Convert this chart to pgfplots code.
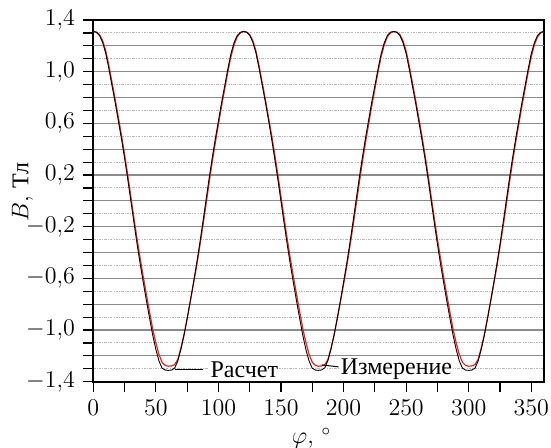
\documentclass[12pt,border=0pt]{standalone}
\usepackage{fontspec}
\usepackage{pgfplots}
\pgfplotsset{compat=1.18}
\newfontfamily\cyr{Liberation Serif}
\definecolor{calcred}{HTML}{F0201A}
\begin{document}
\begin{tikzpicture}
\useasboundingbox (-46.65pt,-32.65pt) rectangle (228.85pt,190.85pt);
\begin{axis}[
  at={(0,0)}, anchor=south west,
  scale only axis, width=225.25pt, height=180.85pt,
  xmin=0, xmax=360, ymin=-1.4, ymax=1.4,
  axis line style={line width=0.8pt},
  tick align=outside, tick pos=left,
  major tick length=5pt, minor tick length=5pt,
  every tick/.style={black, line width=0.6pt},
  xtick={0,50,...,350},
  minor xtick={25,75,...,350},
  ytick={-1.4,-1.2,-1.0,-0.8,-0.6,-0.4,-0.2,0,0.2,0.4,0.6,0.8,1.0,1.4},
  yticklabels={$-1{,}4$,,$-1{,}0$,,$-0{,}6$,,$-0{,}2$,,$0{,}2$,,$0{,}6$,,$1{,}0$,$1{,}4$},
  extra y ticks={1.2},
  extra y tick labels={},
  extra y tick style={grid style={black!22, line width=0.6pt}},
  minor ytick={-1.3,-1.1,-0.9,-0.7,-0.5,-0.3,-0.1,0.1,0.3,0.5,0.7,0.9,1.1,1.3},
  ymajorgrids, yminorgrids,
  major grid style={black!45, line width=0.6pt},
  minor grid style={black!28, line width=0.5pt, dash pattern=on 1.2pt off 0.6pt on 0.4pt off 0.6pt},
  xlabel={$\varphi$, $^\circ$},
  ylabel={$B$, {\cyr Тл}},
  xlabel style={xshift=-3.5pt, yshift=2pt},
  every axis y label/.style={at={(axis description cs:-0.157,0.524)}, anchor=center, rotate=90},
  clip=true,
]
\addplot[calcred, line width=0.6pt] coordinates {
(0,1.310)(2.5,1.307)(5,1.287)(7.5,1.240)(10,1.160)(12.5,1.045)(15,0.915)(17.5,0.786)(20,0.648)(22.5,0.508)(25,0.360)(27.5,0.202)(30,0.033)(32.5,-0.134)(35,-0.297)(37.5,-0.448)(40,-0.592)(42.5,-0.728)(45,-0.862)(47.5,-0.993)(50,-1.100)(52.5,-1.190)(55,-1.250)(57.5,-1.274)(60,-1.280)(62.5,-1.278)(65,-1.268)(67.5,-1.228)(70,-1.139)(72.5,-1.035)(75,-0.913)(77.5,-0.782)(80,-0.646)(82.5,-0.508)(85,-0.357)(87.5,-0.198)(90,-0.033)(92.5,0.136)(95,0.298)(97.5,0.450)(100,0.592)(102.5,0.732)(105,0.864)(107.5,0.996)(110,1.116)(112.5,1.208)(115,1.270)(117.5,1.300)
(120,1.310)(122.5,1.307)(125,1.287)(127.5,1.240)(130,1.160)(132.5,1.045)(135,0.915)(137.5,0.786)(140,0.648)(142.5,0.508)(145,0.360)(147.5,0.202)(150,0.033)(152.5,-0.134)(155,-0.297)(157.5,-0.448)(160,-0.592)(162.5,-0.728)(165,-0.862)(167.5,-0.993)(170,-1.100)(172.5,-1.190)(175,-1.250)(177.5,-1.274)(180,-1.280)(182.5,-1.278)(185,-1.268)(187.5,-1.228)(190,-1.139)(192.5,-1.035)(195,-0.913)(197.5,-0.782)(200,-0.646)(202.5,-0.508)(205,-0.357)(207.5,-0.198)(210,-0.033)(212.5,0.136)(215,0.298)(217.5,0.450)(220,0.592)(222.5,0.732)(225,0.864)(227.5,0.996)(230,1.116)(232.5,1.208)(235,1.270)(237.5,1.300)
(240,1.310)(242.5,1.307)(245,1.287)(247.5,1.240)(250,1.160)(252.5,1.045)(255,0.915)(257.5,0.786)(260,0.648)(262.5,0.508)(265,0.360)(267.5,0.202)(270,0.033)(272.5,-0.134)(275,-0.297)(277.5,-0.448)(280,-0.592)(282.5,-0.728)(285,-0.862)(287.5,-0.993)(290,-1.100)(292.5,-1.190)(295,-1.250)(297.5,-1.274)(300,-1.280)(302.5,-1.278)(305,-1.268)(307.5,-1.228)(310,-1.139)(312.5,-1.035)(315,-0.913)(317.5,-0.782)(320,-0.646)(322.5,-0.508)(325,-0.357)(327.5,-0.198)(330,-0.033)(332.5,0.136)(335,0.298)(337.5,0.450)(340,0.592)(342.5,0.732)(345,0.864)(347.5,0.996)(350,1.116)(352.5,1.208)(355,1.270)(357.5,1.300)(360,1.310)
};
\addplot[black, line width=0.45pt] coordinates {
(0,1.312)(2.5,1.305)(5,1.280)(7.5,1.225)(10,1.140)(12.5,1.020)(15,0.890)(17.5,0.760)(20,0.620)(22.5,0.480)(25,0.330)(27.5,0.170)(30,0.000)(32.5,-0.170)(35,-0.335)(37.5,-0.490)(40,-0.635)(42.5,-0.775)(45,-0.910)(47.5,-1.040)(50,-1.150)(52.5,-1.240)(55,-1.295)(57.5,-1.310)(60,-1.312)(62.5,-1.310)(65,-1.295)(67.5,-1.240)(70,-1.150)(72.5,-1.040)(75,-0.910)(77.5,-0.775)(80,-0.635)(82.5,-0.490)(85,-0.335)(87.5,-0.170)(90,0.000)(92.5,0.170)(95,0.330)(97.5,0.480)(100,0.620)(102.5,0.760)(105,0.890)(107.5,1.020)(110,1.140)(112.5,1.225)(115,1.280)(117.5,1.305)
(120,1.312)(122.5,1.306)(125,1.282)(127.5,1.228)(130,1.145)(132.5,1.025)(135,0.895)(137.5,0.765)(140,0.625)(142.5,0.480)(145,0.325)(147.5,0.165)(150,-0.005)(152.5,-0.175)(155,-0.340)(157.5,-0.495)(160,-0.640)(162.5,-0.780)(165,-0.915)(167.5,-1.045)(170,-1.155)(172.5,-1.242)(175,-1.296)(177.5,-1.310)(180,-1.312)(182.5,-1.309)(185,-1.292)(187.5,-1.236)(190,-1.145)(192.5,-1.035)(195,-0.905)(197.5,-0.770)(200,-0.630)(202.5,-0.485)(205,-0.330)(207.5,-0.165)(210,0.005)(212.5,0.175)(215,0.335)(217.5,0.485)(220,0.625)(222.5,0.765)(225,0.890)(227.5,1.020)(230,1.138)(232.5,1.223)(235,1.280)(237.5,1.306)
(240,1.312)(242.5,1.305)(245,1.280)(247.5,1.224)(250,1.140)(252.5,1.020)(255,0.890)(257.5,0.760)(260,0.620)(262.5,0.480)(265,0.330)(267.5,0.170)(270,0.000)(272.5,-0.170)(275,-0.335)(277.5,-0.490)(280,-0.635)(282.5,-0.775)(285,-0.910)(287.5,-1.040)(290,-1.150)(292.5,-1.240)(295,-1.295)(297.5,-1.310)(300,-1.312)(302.5,-1.310)(305,-1.295)(307.5,-1.240)(310,-1.150)(312.5,-1.040)(315,-0.910)(317.5,-0.775)(320,-0.635)(322.5,-0.490)(325,-0.335)(327.5,-0.170)(330,0.000)(332.5,0.170)(335,0.330)(337.5,0.480)(340,0.620)(342.5,0.760)(345,0.890)(347.5,1.020)(350,1.140)(352.5,1.225)(355,1.280)(357.5,1.305)(360,1.312)
};
\draw[black, line width=0.5pt] (axis cs:65,-1.303) -- (axis cs:87.5,-1.303);
\node[anchor=west, fill=white, inner sep=0.6pt] at (axis cs:92.5,-1.305) {\cyr Расчет};
\draw[black, line width=0.5pt] (axis cs:182.5,-1.27) -- (axis cs:196,-1.285);
\node[anchor=west, fill=white, inner sep=0.6pt] at (axis cs:196.5,-1.305) {\cyr Измерение};
\end{axis}
\end{tikzpicture}
\end{document}
